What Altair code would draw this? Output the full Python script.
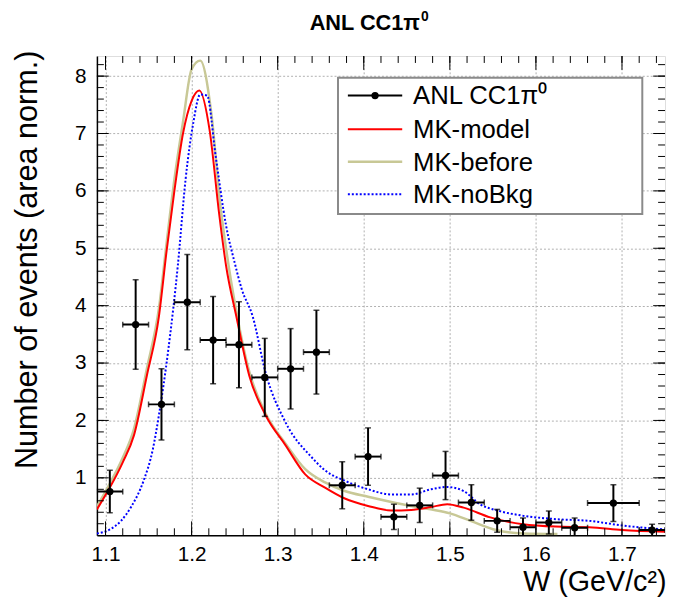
import altair as alt
import pandas as pd

# ---------------- data ----------------
series_names = ["ANL CC1π⁰", "MK-model", "MK-before", "MK-noBkg"]
title_main, title_sup = "ANL CC1π", "0"

data_w = [1.105, 1.135, 1.165, 1.195, 1.225, 1.255, 1.285, 1.315, 1.345, 1.375, 1.405,
          1.435, 1.465, 1.495, 1.525, 1.555, 1.585, 1.615, 1.645, 1.69, 1.735]
data_y = [0.76, 3.67, 2.28, 4.06, 3.40, 3.32, 2.75, 2.90, 3.19, 0.87, 1.37,
          0.32, 0.52, 1.04, 0.57, 0.25, 0.14, 0.22, 0.13, 0.56, 0.09]
data_err = [0.37, 0.78, 0.62, 0.83, 0.76, 0.75, 0.68, 0.70, 0.73, 0.41, 0.50,
            0.22, 0.30, 0.42, 0.31, 0.20, 0.16, 0.20, 0.17, 0.32, 0.10]
data_halfw = [0.015] * 19 + [0.03, 0.015]

model_w = [1.09, 1.105, 1.12, 1.133, 1.148, 1.162, 1.171, 1.18, 1.19, 1.2, 1.209, 1.221,
           1.232, 1.24, 1.252, 1.267, 1.286, 1.309, 1.332, 1.355, 1.378, 1.405, 1.432,
           1.455, 1.478, 1.497, 1.516, 1.547, 1.585, 1.623, 1.662, 1.7, 1.75]
model_y = [0.45, 0.83, 1.27, 1.74, 2.78, 3.81, 4.96, 6.0, 7.0, 7.57, 7.75, 7.05,
           5.6, 4.7, 3.81, 2.78, 2.09, 1.57, 1.06, 0.83, 0.64, 0.51, 0.43,
           0.44, 0.49, 0.54, 0.48, 0.31, 0.19, 0.15, 0.14, 0.09, 0.06]

before_w = [1.09, 1.105, 1.12, 1.133, 1.148, 1.162, 1.171, 1.18, 1.19, 1.2, 1.21, 1.223,
            1.233, 1.244, 1.252, 1.267, 1.286, 1.309, 1.332, 1.355, 1.378, 1.405, 1.432,
            1.455, 1.482, 1.5, 1.524, 1.554, 1.585, 1.625]
before_y = [0.5, 0.9, 1.35, 1.85, 2.9, 3.95, 5.1, 6.2, 7.2, 8.12, 8.27, 7.34,
            5.8, 4.6, 3.9, 2.85, 2.12, 1.6, 1.15, 0.92, 0.77, 0.67, 0.58,
            0.51, 0.44, 0.38, 0.25, 0.09, 0.03, 0.02]

nobkg_w = [1.09, 1.105, 1.118, 1.13, 1.144, 1.155, 1.162, 1.173, 1.184, 1.193, 1.202, 1.21,
           1.218, 1.228, 1.24, 1.25, 1.258, 1.271, 1.286, 1.309, 1.34, 1.355, 1.378,
           1.405, 1.432, 1.455, 1.478, 1.497, 1.516, 1.535, 1.558, 1.585, 1.623, 1.662,
           1.7, 1.75]
nobkg_y = [0.03, 0.1, 0.25, 0.5, 0.94, 1.5, 2.09, 3.24, 4.7, 6.2, 7.19, 7.68,
           7.66, 6.6, 5.4, 4.75, 4.3, 3.81, 2.83, 1.97, 1.35, 1.13, 0.95,
           0.80, 0.71, 0.71, 0.80, 0.84, 0.77, 0.54, 0.42, 0.34, 0.28, 0.25,
           0.17, 0.10]

x_major = [1.1, 1.2, 1.3, 1.4, 1.5, 1.6, 1.7]
x_minor = [round(1.1 + 0.02 * i, 2) for i in range(33)]
y_major = [1, 2, 3, 4, 5, 6, 7, 8]
y_minor = [round(0.2 * i, 1) for i in range(1, 42)]

# ---------------- layout / style ----------------
W_PX, H_PX = 575, 485
FONT = "Liberation Sans"
colors = ["#000000", "#ff0000", "#c8c896", "#0000ff"]

xs = alt.Scale(domain=[1.09, 1.75], nice=False, zero=False)
ys = alt.Scale(domain=[0, 8.35], nice=False, zero=False)

xaxis = alt.Axis(values=x_major, format=".1f", grid=True, gridDash=[2, 2],
                 gridColor="#b0b0b0", gridWidth=1, ticks=False,
                 labelFontSize=21, labelFont=FONT, labelColor="black", labelPadding=9,
                 domainColor="black", domainWidth=1.5,
                 title="W (GeV/c²)", titleFont=FONT, titleFontSize=29,
                 titleFontWeight="normal", titleColor="black", titleAlign="right",
                 titleBaseline="alphabetic", titleX=W_PX + 1, titleY=56)
yaxis = alt.Axis(values=y_major, format="d", grid=True, gridDash=[2, 2],
                 gridColor="#b0b0b0", gridWidth=1, ticks=False,
                 labelFontSize=21, labelFont=FONT, labelColor="black", labelPadding=11,
                 domainColor="black", domainWidth=1.5,
                 title="Number of events (area norm.)", titleFont=FONT, titleFontSize=31,
                 titleFontWeight="normal", titleColor="black", titleAngle=270,
                 titleAlign="right", titleBaseline="alphabetic", titleX=-61, titleY=-6)

curves = pd.concat([
    pd.DataFrame({"W": model_w, "val": model_y, "s": series_names[1]}),
    pd.DataFrame({"W": before_w, "val": before_y, "s": series_names[2]}),
    pd.DataFrame({"W": nobkg_w, "val": nobkg_y, "s": series_names[3]}),
])

pts = pd.DataFrame({"W": data_w, "val": data_y, "err": data_err, "hw": data_halfw})
pts["lo"] = pts["val"] - pts["err"]
pts["hi"] = pts["val"] + pts["err"]
pts["wlo"] = pts["W"] - pts["hw"]
pts["whi"] = pts["W"] + pts["hw"]


def curve(name, color, width, dash=None, axes=False):
    d = curves[curves["s"] == name]
    kw = dict(color=color, strokeWidth=width, clip=True, interpolate="monotone")
    if dash:
        kw["strokeDash"] = dash
    if axes:
        enc = dict(x=alt.X("W:Q", scale=xs, axis=xaxis), y=alt.Y("val:Q", scale=ys, axis=yaxis))
    else:
        enc = dict(x=alt.X("W:Q", scale=xs), y=alt.Y("val:Q", scale=ys))
    return alt.Chart(d).mark_line(**kw).encode(**enc)


c_before = curve(series_names[2], colors[2], 2.5, axes=True)
c_model = curve(series_names[1], colors[1], 2)
c_nobkg = curve(series_names[3], colors[3], 2, dash=[2, 2])

base = alt.Chart(pts)
vbar = base.mark_rule(color="black", strokeWidth=2, clip=True).encode(
    x=alt.X("W:Q", scale=xs), y=alt.Y("lo:Q", scale=ys), y2="hi:Q")
hbar = base.mark_rule(color="black", strokeWidth=2, clip=True).encode(
    x=alt.X("wlo:Q", scale=xs), x2="whi:Q", y=alt.Y("val:Q", scale=ys))
cap_lo = base.mark_tick(orient="horizontal", size=6, thickness=1.5, color="black", clip=True).encode(
    x=alt.X("W:Q", scale=xs), y=alt.Y("lo:Q", scale=ys))
cap_hi = base.mark_tick(orient="horizontal", size=6, thickness=1.5, color="black", clip=True).encode(
    x=alt.X("W:Q", scale=xs), y=alt.Y("hi:Q", scale=ys))
cap_l = base.mark_tick(orient="vertical", size=6, thickness=1.5, color="black", clip=True).encode(
    x=alt.X("wlo:Q", scale=xs), y=alt.Y("val:Q", scale=ys))
cap_r = base.mark_tick(orient="vertical", size=6, thickness=1.5, color="black", clip=True).encode(
    x=alt.X("whi:Q", scale=xs), y=alt.Y("val:Q", scale=ys))
dots = base.mark_circle(size=55, color="black", opacity=1).encode(
    x=alt.X("W:Q", scale=xs), y=alt.Y("val:Q", scale=ys))

# inward ROOT-style ticks on all four sides
xmaj = pd.DataFrame({"W": x_major})
xmin = pd.DataFrame({"W": x_minor})
ymaj = pd.DataFrame({"val": y_major})
ymin = pd.DataFrame({"val": y_minor})
tick_style = dict(color="black", strokeWidth=1)
ticks = [
    alt.Chart(xmaj).mark_rule(**tick_style).encode(x=alt.X("W:Q", scale=xs), y=alt.value(H_PX), y2=alt.value(H_PX - 14)),
    alt.Chart(xmin).mark_rule(**tick_style).encode(x=alt.X("W:Q", scale=xs), y=alt.value(H_PX), y2=alt.value(H_PX - 7)),
    alt.Chart(xmaj).mark_rule(**tick_style).encode(x=alt.X("W:Q", scale=xs), y=alt.value(0), y2=alt.value(14)),
    alt.Chart(xmin).mark_rule(**tick_style).encode(x=alt.X("W:Q", scale=xs), y=alt.value(0), y2=alt.value(7)),
    alt.Chart(ymaj).mark_rule(**tick_style).encode(y=alt.Y("val:Q", scale=ys), x=alt.value(0), x2=alt.value(12)),
    alt.Chart(ymin).mark_rule(**tick_style).encode(y=alt.Y("val:Q", scale=ys), x=alt.value(0), x2=alt.value(7)),
    alt.Chart(ymaj).mark_rule(**tick_style).encode(y=alt.Y("val:Q", scale=ys), x=alt.value(W_PX), x2=alt.value(W_PX - 12)),
    alt.Chart(ymin).mark_rule(**tick_style).encode(y=alt.Y("val:Q", scale=ys), x=alt.value(W_PX), x2=alt.value(W_PX - 7)),
]

# legend box (drawn by hand, ROOT TLegend style)
one = alt.Data(values=[{"k": 0}])
LX0, LX1, LY0, LY1 = 244, 552, 22, 160
entry_y = [40, 74, 107, 140]
legend_layers = [
    alt.Chart(one).mark_rect(fill="white", stroke="#8a8a8a", strokeWidth=2).encode(
        x=alt.value(LX0), x2=alt.value(LX1), y=alt.value(LY0), y2=alt.value(LY1))
]
styles = [
    dict(color=colors[0], strokeWidth=2),
    dict(color=colors[1], strokeWidth=2),
    dict(color=colors[2], strokeWidth=2.5),
    dict(color=colors[3], strokeWidth=2, strokeDash=[2, 2]),
]
for name, yy, st in zip(series_names, entry_y, styles):
    legend_layers.append(alt.Chart(one).mark_rule(**st).encode(
        x=alt.value(254), x2=alt.value(309), y=alt.value(yy)))
    legend_layers.append(alt.Chart(one).mark_text(
        align="left", baseline="middle", font=FONT, fontSize=26, color="black", dy=1).encode(
        x=alt.value(320), y=alt.value(yy), text=alt.value(name)))
legend_layers.append(alt.Chart(one).mark_circle(size=55, color="black", opacity=1).encode(
    x=alt.value(281.5), y=alt.value(entry_y[0])))

# chart title, bold, with a raised superscript
title_layers = [
    alt.Chart(one).mark_text(align="right", baseline="alphabetic", font=FONT, fontSize=22,
                             fontWeight="bold", color="black").encode(
        x=alt.value(327), y=alt.value(-26), text=alt.value(title_main)),
    alt.Chart(one).mark_text(align="left", baseline="alphabetic", font=FONT, fontSize=14,
                             fontWeight="bold", color="black").encode(
        x=alt.value(328), y=alt.value(-35), text=alt.value(title_sup)),
]

chart = alt.layer(
    c_before, c_model, c_nobkg,
    vbar, hbar, cap_lo, cap_hi, cap_l, cap_r, dots,
    *ticks, *legend_layers, *title_layers
).properties(
    width=W_PX, height=H_PX,
    autosize=alt.AutoSizeParams(type="none"),
    padding={"left": 90, "top": 45, "right": 2, "bottom": 65},
).configure_view(
    stroke="#333333", strokeWidth=1.5
).configure(background="white")

chart.save("out.html", embed_options={"renderer": "svg", "actions": False})
